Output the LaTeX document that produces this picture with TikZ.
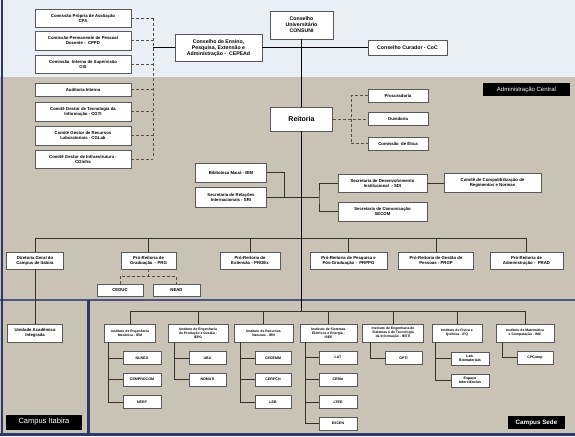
\documentclass[tikz,border=0pt]{standalone}
\usepackage{fontspec}
\setmainfont{Liberation Sans}
\usetikzlibrary{shadows}
\definecolor{tanbg}{RGB}{200,195,180}
\definecolor{topbg}{RGB}{234,239,245}
\definecolor{navy}{RGB}{45,55,105}
\definecolor{lnk}{RGB}{55,50,40}
\definecolor{dsh}{RGB}{85,78,65}
\begin{document}
\begin{tikzpicture}[x=1pt,y=-1pt,
  box/.style={draw=black!65, fill=white, line width=0.55pt, inner sep=0.3pt, align=center,
    font=\fontsize{4.3}{5}\selectfont\bfseries,
    drop shadow={shadow xshift=0.7pt, shadow yshift=-0.7pt, fill=black!60, opacity=1}},
  big/.style={font=\fontsize{5.2}{6}\selectfont\bfseries},
  inst/.style={font=\fontsize{3.4}{4}\selectfont\bfseries},
  sub/.style={font=\fontsize{3.6}{4.2}\selectfont\bfseries},
  sz/.style 2 args={minimum width=#1pt, minimum height=#2pt},
  ln/.style={draw=lnk, line width=0.7pt},
  mainln/.style={draw=black, line width=1pt},
  dln/.style={draw=dsh, line width=0.6pt, dash pattern=on 3pt off 2pt},
  lab/.style={fill=black, text=white, inner sep=0pt, align=center}
]
\useasboundingbox (0,0) rectangle (575,436);
% backgrounds
\fill[topbg] (0,0) rectangle (575,77);
\fill[tanbg] (0,77) rectangle (575,436);
\draw[navy!85!white, line width=2.2pt] (0,300) -- (575,300);
\draw[navy, line width=3pt] (88,300) -- (88,436);
\draw[navy, line width=3pt] (0,434.5) -- (575,434.5);
\draw[navy, line width=2pt] (1.5,0) -- (1.5,436);

% left committees
\node[box,sz={96}{18}] (cpa) at (83,18) {Comissão Própria de Avaliação\\CPA};
\node[box,sz={96}{19}] (cppd) at (83,40.5) {Comissão Permanente de Pessoal\\Docente -\ \ CPPD};
\node[box,sz={96}{18}] (cis) at (83,64) {Comissão\ \ Interna de Supervisão\\CIS};
\node[box,sz={96}{13}] (aud) at (83,89.5) {Auditoria Interna};
\node[box,sz={96}{19}] (cgti) at (83,111.5) {Comitê Gestor de Tecnologia da\\Informação - CGTI};
\node[box,sz={96}{19}] (cglab) at (83,135.5) {Comitê Gestor de Recursos\\Laboratoriais - CGLab};
\node[box,sz={96}{18}] (cginfra) at (83,159) {Comitê Gestor de Infraestrutura -\\CGInfra};

\coordinate (dtop) at (153,18);
\coordinate (dbot) at (153,158);
\coordinate (cj) at (153,48);
\draw[dln] (dtop) -- (dbot);
\foreach \n in {cpa,cppd,cis,aud,cgti,cglab,cginfra}
  \draw[dln] (\n.east) -- (\n.east -| dtop);

% councils
\node[box,big,sz={87}{27}] (cepead) at (218.5,48) {Conselho de Ensino,\\Pesquisa, Extensão e\\Administração -\ \ CEPEAd};
\node[box,big,sz={63}{28}] (consuni) at (301.5,25) {Conselho\\Universitário\\CONSUNI};
\node[box,big,sz={79}{15}] (coc) at (407.5,48) {Conselho Curador - CoC};
\draw[mainln] (cj) -- (cepead.west);
\draw[mainln] (cepead.east) -- (coc.west);

\node[lab,sz={87}{13},font=\fontsize{6}{7}\selectfont] (admc) at (526.5,89.5) {Administração Central};

% Reitoria
\node[box,sz={62}{24},font=\fontsize{7}{8}\selectfont\bfseries] (reit) at (301.5,119) {Reitoria};
\node[box,sz={60}{13}] (proc) at (398,95.5) {Procuradoria};
\node[box,sz={60}{13}] (ouv) at (398,119) {Ouvidoria};
\node[box,sz={60}{13}] (etica) at (398,143.5) {Comissão\ \ de Ética};
\coordinate (rj) at (351,119);
\draw[dln] (reit.east) -- (ouv.west);
\draw[dln] (proc.west) -- (proc.west -| rj) -- (etica.west -| rj) -- (etica.west);

% secretarias
\node[box,sz={71}{19}] (bim) at (231,172.5) {Biblioteca Mauá - BIM};
\node[box,sz={71}{20}] (sri) at (231,197) {Secretaria de Relações\\Internacionais - SRI};
\node[box,sz={89}{18}] (sdi) at (382.5,183) {Secretaria de Desenvolvimento\\Institucional\ \ - SDI};
\node[box,sz={89}{19}] (secom) at (382.5,211.5) {Secretaria de Comunicação\\SECOM};
\node[box,sz={97}{19}] (ccrn) at (492.5,183) {Comitê de Compatibilização de\\Regimentos e Normas};
\coordinate (bj) at (284,197);
\coordinate (sj) at (319,197);
\draw[ln] (bim.east) -| (bj);
\draw[ln] (sri.east) -- (sj);
\draw[ln] (sdi.west) -| (sj) |- (secom.west);
\draw[ln] (sdi.east) -- (ccrn.west);

% pro-reitorias
\node[box,sz={57}{17}] (dg) at (35,260.5) {Diretoria Geral do\\Campus de Itabira};
\node[box,sz={55}{17}] (prg) at (148.5,260.5) {Pró-Reitoria de\\Graduação\ \ - PRG};
\node[box,sz={60}{17}] (proex) at (250,260.5) {Pró-Reitoria de\\Extensão - PROEx};
\node[box,sz={77}{17}] (prppg) at (348.5,260.5) {Pró-Reitoria de Pesquisa e\\Pós-Graduação -\ \ PRPPG};
\node[box,sz={75}{17}] (prgp) at (436,260.5) {Pró-Reitoria de Gestão de\\Pessoas - PRGP};
\node[box,sz={73}{17}] (prad) at (526.5,260.5) {Pró-Reitoria de\\Administração -\ \ PRAD};
\coordinate (pb) at (0,238);
\draw[ln] (dg.north) |- (prad.north |- pb) -- (prad.north);
\foreach \n in {prg,proex,prppg,prgp}
  \draw[ln] (\n.north) -- (\n.north |- pb);

\node[box,sz={46}{12}] (ceduc) at (120,290) {CEDUC};
\node[box,sz={47}{12}] (nead) at (176.5,290) {NEAD};
\coordinate (cj2) at (0,276);
\draw[dln] (prg.south) -- (prg.south |- cj2);
\draw[dln] (ceduc.north) |- (nead.north |- cj2) -- (nead.north);

% campus itabira
\node[box,sz={55}{18}] (uai) at (35,333) {Unidade Acadêmica\\Integrada};
\draw[ln] (dg.south) -- (uai.north);
\node[lab,sz={76}{15},font=\fontsize{7.5}{8}\selectfont] (cita) at (44,422) {Campus Itabira};

% main vertical
\coordinate (ib) at (0,311);
\draw[mainln] (consuni.south) -- (reit.north);
\draw[mainln] (reit.south) -- (reit.south |- ib);

% institutes
\node[box,inst,sz={51}{18}] (iem) at (130,333) {Instituto de Engenharia\\Mecânica - IEM};
\node[box,inst,sz={60}{18}] (iepg) at (198,333) {Instituto de Engenharia\\de Produção e Gestão -\\IEPG};
\node[box,inst,sz={59}{18}] (irn) at (263.5,333) {Instituto de Recursos\\Naturais - IRN};
\node[box,inst,sz={57}{18}] (isee) at (328.5,333) {Instituto de Sistemas\\Elétricos e Energia -\\ISEE};
\node[box,inst,sz={61}{18}] (iesti) at (393,333) {Instituto de Engenharia de\\Sistemas e de Tecnologia\\da Informação - IESTI};
\node[box,inst,sz={50}{18}] (ifq) at (457,333) {Instituto de Física e\\Química - IFQ};
\node[box,inst,sz={58}{18}] (imc) at (525,333) {Instituto de Matemática\\e Computação - IMC};
\draw[ln] (iem.north) |- (imc.north |- ib) -- (imc.north);
\foreach \n in {iepg,irn,isee,iesti,ifq}
  \draw[ln] (\n.north) -- (\n.north |- ib);

% IEM units
\node[box,sub,sz={38}{13}] (nuseg) at (142,358) {NUSEG};
\node[box,sub,sz={38}{13}] (cemp) at (142,379.5) {CEMPROCOM};
\node[box,sub,sz={38}{13}] (neep) at (142,402) {NEEP};
\coordinate (t1) at (108,0);
\draw[ln] (iem.south -| t1) |- (neep.west);
\foreach \n in {nuseg,cemp} \draw[ln] (\n.west) -- (\n.west -| t1);

% IEPG units
\node[box,sub,sz={37}{13}] (ubu) at (207.5,358) {UBU};
\node[box,sub,sz={37}{13}] (nomati) at (207.5,379.5) {NOMATI};
\coordinate (t2) at (174,0);
\draw[ln] (iepg.south -| t2) |- (nomati.west);
\draw[ln] (ubu.west) -- (ubu.west -| t2);

% IRN units
\node[box,sub,sz={36}{13}] (cedemm) at (273,358) {CEDEMM};
\node[box,sub,sz={36}{13}] (cerpch) at (273,379.5) {CERPCH};
\node[box,sub,sz={36}{13}] (leb) at (273,402) {LEB};
\coordinate (t3) at (240,0);
\draw[ln] (irn.south -| t3) |- (leb.west);
\foreach \n in {cedemm,cerpch} \draw[ln] (\n.west) -- (\n.west -| t3);

% ISEE units
\node[box,sub,sz={38}{13}] (lat) at (338,357.5) {LAT};
\node[box,sub,sz={38}{13}] (cerin) at (338,379.5) {CERIn};
\node[box,sub,sz={38}{13}] (ltee) at (338,402) {LTEE};
\node[box,sub,sz={38}{13}] (excen) at (338,423.5) {EXCEN};
\coordinate (t4) at (305,0);
\draw[ln] (isee.south -| t4) |- (excen.west);
\foreach \n in {lat,cerin,ltee} \draw[ln] (\n.west) -- (\n.west -| t4);

% IESTI units
\node[box,sub,sz={37}{13}] (gpti) at (403.5,358) {GPTI};
\coordinate (t5) at (370,0);
\draw[ln] (iesti.south -| t5) |- (gpti.west);

% IFQ units
\node[box,sub,sz={38}{13}] (labbio) at (470,358.5) {Lab.\\Biomateriais};
\node[box,sub,sz={38}{13}] (espaco) at (470,380.5) {Espaço\\Interciências};
\coordinate (t6) at (435,0);
\draw[ln] (ifq.south -| t6) |- (espaco.west);
\draw[ln] (labbio.west) -- (labbio.west -| t6);

% IMC units
\node[box,sub,sz={36}{13}] (cpcomp) at (535,357.5) {CPComp};
\coordinate (t7) at (502,0);
\draw[ln] (imc.south -| t7) |- (cpcomp.west);

\node[lab,sz={57}{13},font=\fontsize{6.3}{7}\selectfont\bfseries] (csede) at (536.5,422.5) {Campus Sede};
\end{tikzpicture}
\end{document}
